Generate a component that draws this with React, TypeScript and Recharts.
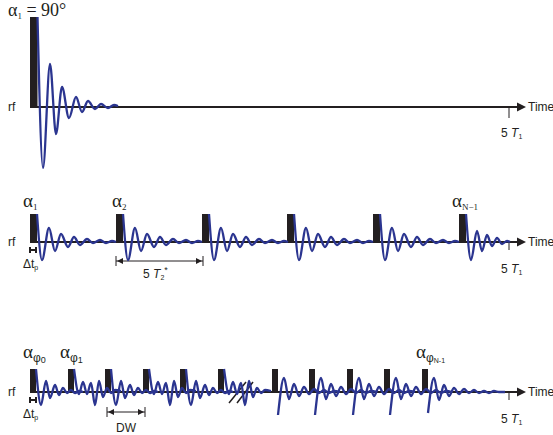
import React from "react";
import {
  ComposedChart,
  XAxis,
  YAxis,
  Line,
  ReferenceArea,
  ReferenceLine,
  ReferenceDot,
} from "recharts";

const BLUE = "#2b3590";
const INK = "#231f20";
const SANS = '"Liberation Sans", Arial, sans-serif';
const SERIF = '"Liberation Serif", "DejaVu Serif", "Times New Roman", serif';

// ---------- data (time in t-units from first pulse, amplitude relative to rf baseline) ----------
const T1_MARK = 479; // time of the "5 T1" tick
const AXIS_END = 487; // base of the time arrow

// Panel 1: single 90° pulse
const p1Pulses = [0];
const p1PulseWidth = 7.5;
const p1PulseHeight = 90;
const p1Fid: [number, number][] = [
  [7.5, 90], [13, -61], [20, 43], [26, -27], [32, 20], [39, -11], [46, 10],
  [52, -5], [58, 6], [65, -2], [71, 3], [78, -1], [84, 2], [88, 1],
];

// Panel 2: pulses every 5 T2*
const p2Pulses = [0, 86, 172, 257, 343];
const p2LastPulse = 429;
const p2PulseWidth = 7;
const p2PulseHeight = 28;
const p2Fid: [number, number][] = [
  [7, 28], [12, -18], [19, 14], [25, -9], [31, 8], [38, -5], [44, 5], [50, -3],
  [57, 3], [63, -1], [70, 2], [76, -1], [82, 1], [86, 0],
];
const p2LastFid: [number, number][] = [
  [7, 28], [12, -18], [18, 11], [23, -9], [28, 7], [33, -4], [38, 4], [43, -2],
  [48, 1], [51, 0],
];

// Panel 3: rapid pulse train with dwell time DW
const p3GroupA = [0, 38, 75, 113, 150, 188];
const p3GroupB = [242, 279, 317, 354];
const p3LastPulse = 392;
const p3PulseWidth = 6;
const p3PulseHeight = 23;
const p3FidOdd: [number, number][] = [
  [6, 23], [11, -13], [16, 11], [20, -6], [25, 7], [29, -3], [33, 4], [37, -1],
  [41, 2], [45, -1], [49, 1], [53, 0],
];
const p3FidEven: [number, number][] = [
  [6, 23], [11, -2], [15, 10], [19, -2], [23, 9], [27, -13], [31, 11], [35, -5],
  [39, 4], [43, -1], [47, 2], [53, 1],
];
const p3FidB: [number, number][] = [
  [6, -23], [12, 14], [17, -7], [22, 8], [27, -4], [32, 5], [37, -2], [42, 3],
  [47, -1], [52, 2], [57, -1], [62, 1], [68, 0],
];
const p3LastFid: [number, number][] = [
  [6, -21], [12, 14], [17, -8], [22, 7], [27, -4], [32, 4], [37, -2], [42, 3],
  [47, -1], [52, 2], [57, -1], [62, 1], [67, -1], [72, 1], [77, 0], [83, 0],
];

// ---------- helpers ----------
type Pt = { t: number; a: number };
const place = (start: number, shape: [number, number][]): Pt[] =>
  shape.map(([dt, a]) => ({ t: start + dt, a }));

const arrowRight = (p: any) => (
  <polygon
    points={`${p.cx},${p.cy - 4.5} ${p.cx + 9},${p.cy} ${p.cx},${p.cy + 4.5}`}
    fill={INK}
  />
);
const tipLeft = (p: any) => (
  <polygon
    points={`${p.cx},${p.cy} ${p.cx + 6},${p.cy - 3} ${p.cx + 6},${p.cy + 3}`}
    fill={INK}
  />
);
const tipRight = (p: any) => (
  <polygon
    points={`${p.cx},${p.cy} ${p.cx - 6},${p.cy - 3} ${p.cx - 6},${p.cy + 3}`}
    fill={INK}
  />
);

type PanelProps = {
  top: number;
  height: number;
  yDomain: [number, number];
  pulses: number[];
  pulseWidth: number;
  pulseHeight: number;
  fids: Pt[][];
  tickDepth: number;
  children?: React.ReactNode;
};

function Panel({
  top,
  height,
  yDomain,
  pulses,
  pulseWidth,
  pulseHeight,
  fids,
  tickDepth,
  children,
}: PanelProps) {
  return (
    <div style={{ position: "absolute", left: 0, top, width: 553, height }}>
      <ComposedChart
        width={553}
        height={height}
        margin={{ top: 0, right: 0, bottom: 0, left: 0 }}
      >
        <XAxis
          type="number"
          dataKey="t"
          domain={[-30, 523]}
          hide
          allowDataOverflow
        />
        <YAxis type="number" domain={yDomain} hide allowDataOverflow />
        {pulses.map((p, i) => (
          <ReferenceArea
            key={"p" + i}
            x1={p}
            x2={p + pulseWidth}
            y1={0}
            y2={pulseHeight}
            fill={INK}
            fillOpacity={1}
            stroke="none"
            ifOverflow="visible"
          />
        ))}
        <ReferenceLine
          segment={[
            { x: 0, y: 0 },
            { x: AXIS_END + 1, y: 0 },
          ]}
          stroke={INK}
          strokeWidth={2}
          ifOverflow="visible"
        />
        <ReferenceLine
          segment={[
            { x: T1_MARK, y: 0 },
            { x: T1_MARK, y: -tickDepth },
          ]}
          stroke={INK}
          strokeWidth={1}
          ifOverflow="visible"
        />
        <ReferenceDot x={AXIS_END} y={0} shape={arrowRight} ifOverflow="visible" />
        {children}
        {fids.map((d, i) => (
          <Line
            key={"f" + i}
            data={d}
            dataKey="a"
            type="monotone"
            stroke={BLUE}
            strokeWidth={2.3}
            dot={false}
            activeDot={false}
            isAnimationActive={false}
          />
        ))}
      </ComposedChart>
    </div>
  );
}

const seg = (x1: number, y1: number, x2: number, y2: number, key: string, w = 1) => (
  <ReferenceLine
    key={key}
    segment={[
      { x: x1, y: y1 },
      { x: x2, y: y2 },
    ]}
    stroke={INK}
    strokeWidth={w}
    ifOverflow="visible"
  />
);

const sansStyle = { fontFamily: SANS };
const serifStyle = { fontFamily: SERIF };

function T1Label({ x, y }: { x: number; y: number }) {
  return (
    <text x={x} y={y} style={sansStyle} fontSize={12} fill={INK}>
      5{" "}
      <tspan fontStyle="italic">T</tspan>
      <tspan fontSize={7} dy={2}>1</tspan>
    </text>
  );
}

function Alpha({ x, y, sub }: { x: number; y: number; sub: string }) {
  return (
    <text x={x} y={y} style={serifStyle} fontSize={19} fill={INK}>
      α<tspan fontSize={9} dy={3}>{sub}</tspan>
    </text>
  );
}

function AlphaPhi({ x, y, sub, subSize }: { x: number; y: number; sub: string; subSize: number }) {
  return (
    <text x={x} y={y} style={serifStyle} fontSize={19} fill={INK}>
      α
      <tspan style={sansStyle} fontSize={12} dy={4}>φ</tspan>
      <tspan style={sansStyle} fontSize={subSize} dy={1}>{sub}</tspan>
    </text>
  );
}

export default function App() {
  const fids1 = [place(0, p1Fid)];
  const fids2 = [...p2Pulses.map((p) => place(p, p2Fid)), place(p2LastPulse, p2LastFid)];
  const fids3 = [
    ...p3GroupA.map((p, i) => place(p, i % 2 === 0 ? p3FidOdd : p3FidEven)),
    ...p3GroupB.map((p) => place(p, p3FidB)),
    place(p3LastPulse, p3LastFid),
  ];

  return (
    <div style={{ position: "relative", width: 553, height: 435, background: "#fff" }}>
      <style>{"body{margin:0}"}</style>
      <Panel
        top={0}
        height={180}
        yDomain={[-73, 107]}
        pulses={p1Pulses}
        pulseWidth={p1PulseWidth}
        pulseHeight={p1PulseHeight}
        fids={fids1}
        tickDepth={11}
      />
      <Panel
        top={180}
        height={110}
        yDomain={[-48, 62]}
        pulses={[...p2Pulses, p2LastPulse]}
        pulseWidth={p2PulseWidth}
        pulseHeight={p2PulseHeight}
        fids={fids2}
        tickDepth={8}
      >
        {seg(0, -8, 6, -8, "h1", 2)}
        {seg(0, -5, 0, -11, "h2", 2)}
        {seg(6, -5, 6, -11, "h3", 2)}
        {seg(86, -19, 173, -19, "d1", 1)}
        {seg(86, -14, 86, -24, "d2", 1)}
        {seg(173, -14, 173, -24, "d3", 1)}
        <ReferenceDot x={87} y={-19} shape={tipLeft} ifOverflow="visible" />
        <ReferenceDot x={172} y={-19} shape={tipRight} ifOverflow="visible" />
      </Panel>
      <Panel
        top={330}
        height={105}
        yDomain={[-43, 62]}
        pulses={[...p3GroupA, ...p3GroupB, p3LastPulse]}
        pulseWidth={p3PulseWidth}
        pulseHeight={p3PulseHeight}
        fids={fids3}
        tickDepth={8}
      >
        {seg(0, -8, 6, -8, "h1", 2)}
        {seg(0, -5, 0, -11, "h2", 2)}
        {seg(6, -5, 6, -11, "h3", 2)}
        {seg(77, -20, 115, -20, "w1", 1)}
        {seg(77, -15, 77, -25, "w2", 1)}
        {seg(115, -15, 115, -25, "w3", 1)}
        <ReferenceDot x={78} y={-20} shape={tipLeft} ifOverflow="visible" />
        <ReferenceDot x={114} y={-20} shape={tipRight} ifOverflow="visible" />
        {seg(199, -11, 216, 10, "b1", 1.5)}
        {seg(207, -11, 223, 10, "b2", 1.5)}
      </Panel>

      <svg
        width={553}
        height={435}
        style={{ position: "absolute", left: 0, top: 0, pointerEvents: "none" }}
      >
        {/* panel 1 */}
        <text x={8} y={16} style={serifStyle} fontSize={18} fill={INK}>
          α<tspan fontSize={9} dy={3}>1</tspan>
          <tspan dy={-3} fontSize={18}> = 90°</tspan>
        </text>
        <text x={8} y={111} style={sansStyle} fontSize={12} fill={INK}>rf</text>
        <text x={528} y={111} style={sansStyle} fontSize={12} fill={INK}>Time</text>
        <T1Label x={501} y={137} />

        {/* panel 2 */}
        <Alpha x={23} y={207} sub="1" />
        <Alpha x={112} y={207} sub="2" />
        <Alpha x={452} y={207} sub="N−1" />
        <text x={8} y={246} style={sansStyle} fontSize={12} fill={INK}>rf</text>
        <text x={528} y={246} style={sansStyle} fontSize={12} fill={INK}>Time</text>
        <T1Label x={501} y={273} />
        <text x={23} y={268} style={sansStyle} fontSize={12} fill={INK}>
          Δt<tspan fontSize={7} dy={2}>p</tspan>
        </text>
        <text x={143} y={278} style={sansStyle} fontSize={12} fill={INK}>
          5{" "}
          <tspan fontStyle="italic">T</tspan>
          <tspan fontSize={7} dy={2}>2</tspan>
          <tspan fontSize={9} dy={-7}>*</tspan>
        </text>

        {/* panel 3 */}
        <AlphaPhi x={23} y={358} sub="0" subSize={9} />
        <AlphaPhi x={60} y={358} sub="1" subSize={9} />
        <AlphaPhi x={416} y={358} sub="N-1" subSize={7} />
        <text x={8} y={396} style={sansStyle} fontSize={12} fill={INK}>rf</text>
        <text x={528} y={396} style={sansStyle} fontSize={12} fill={INK}>Time</text>
        <T1Label x={501} y={423} />
        <text x={23} y={418} style={sansStyle} fontSize={12} fill={INK}>
          Δt<tspan fontSize={7} dy={2}>p</tspan>
        </text>
        <text x={116} y={432} style={sansStyle} fontSize={12} fill={INK}>DW</text>
      </svg>
    </div>
  );
}
